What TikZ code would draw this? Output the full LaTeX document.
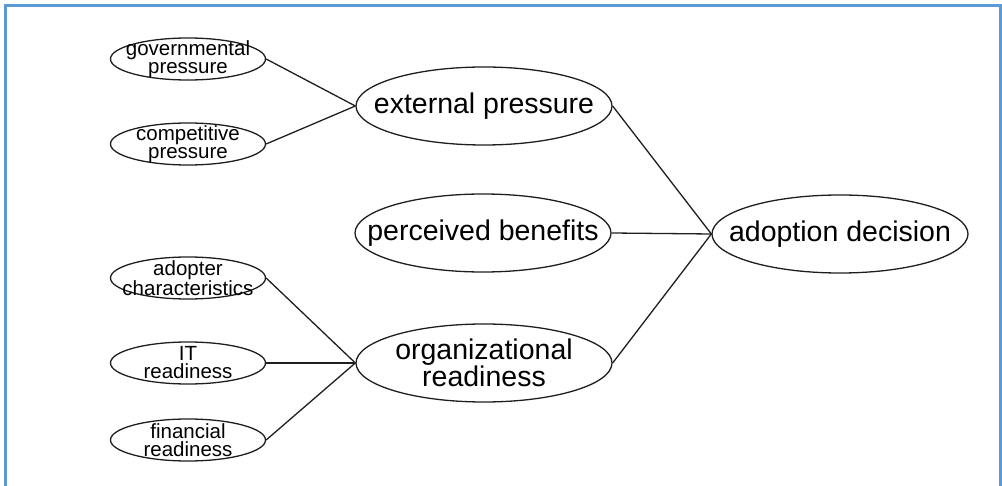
\documentclass[tikz,border=0pt]{standalone}
\usepackage{fontspec}
\setmainfont{Liberation Sans}
\usetikzlibrary{shapes.geometric}
\definecolor{framecol}{RGB}{91,155,213}
\definecolor{inkcol}{RGB}{30,30,30}
\begin{document}
\begin{tikzpicture}[x=1pt,y=-1pt,
  % negative inner separation keeps the ellipse at its minimum size
  factor/.style={ellipse,draw=inkcol,line width=1.3pt,
    inner xsep=-60pt,inner ysep=-12pt,
    minimum width=155pt,minimum height=42pt,align=center,
    font=\fontsize{20.5}{18}\selectfont},
  construct/.style={ellipse,draw=inkcol,line width=1.3pt,
    inner xsep=-110pt,inner ysep=-15pt,
    minimum width=256pt,minimum height=78pt,align=center,
    font=\fontsize{28.5}{24.5}\selectfont},
  link/.style={draw=inkcol,line width=1.3pt}]
  \useasboundingbox (0,0) rectangle (1002,486);
  % open frame round the model
  \draw[framecol,line width=3pt] (5.5,486) -- (5.5,5.5) -- (1000.5,5.5) -- (1000.5,486);

  % antecedent factors
  \node[factor] (gov) at (188,59) {governmental\\pressure};
  \node[factor] (comp) at (188,144) {competitive\\pressure};
  \node[factor] (adopt) at (188,278) {adopter\\characteristics};
  \node[factor] (itr) at (188,363) {IT\\readiness};
  \node[factor] (fin) at (188,440) {financial\\readiness};

  % main constructs
  \node[construct] (ext) at (484,106) {external pressure};
  \node[construct] (ben) at (483,233) {perceived benefits};
  \node[construct] (org) at (484,363) {organizational\\readiness};
  \node[construct] (dec) at (840,234) {adoption decision};

  % connections
  \draw[link] (gov.east) -- (ext.west);
  \draw[link] (comp.east) -- (ext.west);
  \draw[link] (adopt.east) -- (org.west);
  \draw[link] (itr.east) -- (org.west);
  \draw[link] (fin.east) -- (org.west);
  \draw[link] (ext.east) -- (dec.west);
  \draw[link] (ben.east) -- (dec.west);
  \draw[link] (org.east) -- (dec.west);
\end{tikzpicture}
\end{document}
